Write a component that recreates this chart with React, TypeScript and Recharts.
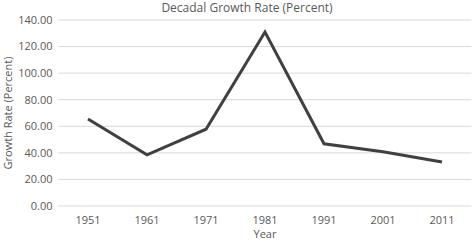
import React from "react";
import { LineChart, Line, XAxis, YAxis, CartesianGrid, Label } from "recharts";

const years = ["1951", "1961", "1971", "1981", "1991", "2001", "2011"];
const growthRate = [65.5, 38.5, 57.8, 131.0, 46.8, 40.9, 33.1];
const yTicks = [0, 20, 40, 60, 80, 100, 120, 140];

const data = years.map((year, i) => ({ year, rate: growthRate[i] }));

const font = "'Open Sans', sans-serif";
const grey = "#595959";

export default function App() {
  return (
    <div style={{ position: "absolute", left: 0, top: 0, width: 473, height: 242, background: "#fff", fontFamily: font }}>
      <div
        style={{
          position: "absolute",
          top: 0,
          left: 0,
          width: 494,
          textAlign: "center",
          fontSize: 12,
          color: grey,
          lineHeight: "16px",
        }}
      >
        Decadal Growth Rate (Percent)
      </div>
      <LineChart width={473} height={242} data={data} margin={{ top: 20, right: 1.5, left: 0, bottom: 0 }}>
        <CartesianGrid vertical={false} stroke="#d9d9d9" strokeWidth={1} />
        <XAxis
          dataKey="year"
          axisLine={false}
          tickLine={false}
          height={36}
          padding={{ left: 29.5, right: 29.5 }}
          tick={{ fill: grey, fontSize: 11, fontFamily: font }}
          tickMargin={4}
        >
          <Label
            content={({ viewBox }: any) => (
              <text
                x={viewBox.x + viewBox.width / 2}
                y={viewBox.y + 32}
                textAnchor="middle"
                fill={grey}
                fontSize={11}
                fontFamily={font}
              >
                Year
              </text>
            )}
          />
        </XAxis>
        <YAxis
          width={58.5}
          domain={[0, 140]}
          ticks={yTicks}
          axisLine={false}
          tickLine={false}
          tickSize={4}
          tickMargin={2}
          tickFormatter={(v: number) => v.toFixed(2)}
          tick={{ fill: grey, fontSize: 11, fontFamily: font }}
        >
          <Label
            content={({ viewBox }: any) => {
              const cx = viewBox.x + 7;
              const cy = viewBox.y + viewBox.height / 2;
              return (
                <text
                  x={cx}
                  y={cy}
                  transform={`rotate(-90 ${cx} ${cy})`}
                  textAnchor="middle"
                  dominantBaseline="central"
                  fill={grey}
                  fontSize={11}
                  fontFamily={font}
                >
                  Growth Rate (Percent)
                </text>
              );
            }}
          />
        </YAxis>
        <Line
          type="linear"
          dataKey="rate"
          stroke="#404040"
          strokeWidth={3}
          dot={false}
          isAnimationActive={false}
        />
      </LineChart>
    </div>
  );
}
